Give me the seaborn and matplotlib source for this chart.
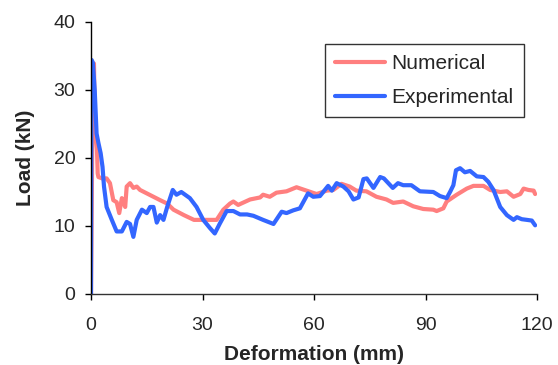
import matplotlib
matplotlib.use("Agg")
import matplotlib.pyplot as plt
import seaborn as sns
import pandas as pd

num_x = [0.0, 0.5, 0.8, 1.0, 1.3, 1.6, 1.8, 2.0, 3.0, 4.2,
         5.1, 6.0, 6.9, 7.6, 8.3, 9.2, 9.6, 10.5, 11.4, 12.3,
         13.2, 15.0, 16.8, 18.6, 20.5, 22.2, 25.0, 27.7, 30.2, 33.8,
         35.6, 37.4, 38.3, 39.6, 42.8, 45.5, 46.3, 48.1, 49.9, 52.6,
         55.3, 58.0, 60.7, 63.4, 65.2, 67.4, 69.6, 71.4, 74.1, 76.8,
         79.5, 81.3, 84.0, 86.7, 89.4, 92.1, 93.0, 94.8, 95.7, 98.4,
         101.1, 102.9, 105.6, 107.4, 110.1, 111.9, 113.7, 115.5, 116.4, 117.7,
         119.1, 119.5]
num_y = [0.0, 33.0, 33.9, 26.0, 23.3, 21.3, 17.7, 17.2, 17.0, 17.0,
         16.3, 13.8, 13.5, 11.9, 14.1, 12.8, 15.8, 16.3, 15.6, 15.8,
         15.3, 14.8, 14.3, 13.8, 13.3, 12.4, 11.6, 10.9, 10.9, 10.9,
         12.4, 13.3, 13.6, 13.1, 13.9, 14.2, 14.6, 14.3, 14.9, 15.1,
         15.7, 15.2, 14.7, 15.2, 15.3, 16.2, 15.8, 15.2, 15.1, 14.3,
         13.9, 13.4, 13.6, 12.9, 12.5, 12.4, 12.2, 12.6, 13.6, 14.6,
         15.5, 15.9, 15.9, 15.3, 15.0, 15.1, 14.3, 14.7, 15.5, 15.3,
         15.2, 14.7]

exp_x = [0.0, 0.1, 0.2, 0.5, 1.0, 1.5, 2.0, 2.6, 3.1, 3.5,
         4.2, 5.6, 6.9, 8.3, 9.6, 10.5, 11.4, 12.3, 13.7, 15.0,
         15.9, 16.8, 17.7, 18.6, 19.5, 20.5, 22.0, 23.0, 24.3, 26.6,
         28.4, 30.2, 32.0, 33.3, 34.7, 36.5, 38.3, 40.1, 42.0, 43.7,
         46.3, 49.1, 51.3, 52.6, 54.4, 56.2, 58.4, 59.8, 61.6, 63.8,
         64.8, 66.1, 67.9, 69.3, 70.6, 72.0, 73.3, 74.2, 76.0, 77.8,
         78.8, 81.2, 82.6, 84.0, 86.2, 88.5, 92.1, 93.9, 95.7, 96.6,
         97.5, 98.2, 99.3, 100.6, 102.0, 103.8, 105.6, 106.9, 108.3, 110.1,
         111.9, 113.7, 114.6, 115.9, 117.3, 118.6, 119.5]
exp_y = [0.0, 30.0, 34.4, 34.0, 30.0, 23.6, 22.2, 20.7, 18.7, 15.8,
         12.8, 10.9, 9.2, 9.2, 10.6, 10.3, 8.4, 10.9, 12.4, 11.9,
         12.8, 12.8, 10.5, 11.6, 10.9, 12.8, 15.3, 14.6, 15.0, 14.1,
         12.8, 10.9, 9.7, 8.9, 10.4, 12.2, 12.2, 11.7, 11.7, 11.5,
         10.9, 10.3, 12.1, 11.9, 12.3, 12.6, 14.8, 14.3, 14.4, 15.9,
         15.2, 16.3, 15.8, 15.1, 13.9, 14.2, 16.9, 17.0, 15.6, 17.2,
         17.0, 15.6, 16.3, 16.0, 16.0, 15.1, 15.0, 14.4, 14.1, 15.0,
         16.0, 18.2, 18.5, 17.9, 18.1, 17.3, 17.2, 16.5, 15.3, 12.8,
         11.6, 10.9, 11.3, 11.0, 10.9, 10.8, 10.1]

x_ticks = [0, 30, 60, 90, 120]
y_ticks = [0, 10, 20, 30, 40]

df = pd.concat([
    pd.DataFrame({"x": num_x, "y": num_y, "series": "Numerical"}),
    pd.DataFrame({"x": exp_x, "y": exp_y, "series": "Experimental"}),
], ignore_index=True)

sns.set_style("ticks")
plt.rcParams['font.family'] = ['Liberation Sans', 'DejaVu Sans']

fig = plt.figure(figsize=(5.58, 3.65), dpi=100)
ax = fig.add_axes([91/558, 1-294/365, (537-91)/558, (294-22)/365])

sns.lineplot(data=df, x="x", y="y", hue="series", sort=False, estimator=None,
             palette={"Numerical": "#FF7F7F", "Experimental": "#3366FF"},
             linewidth=3, ax=ax)

ax.set_xlim(0, 120)
ax.set_ylim(0, 40)
ax.set_xticks(x_ticks)
ax.set_yticks(y_ticks)
ax.tick_params(labelsize=14, length=4.3, width=1, color="black", direction="out")
ax.tick_params(axis="x", pad=12)
ax.tick_params(axis="y", pad=7)
ax.spines['top'].set_visible(False)
ax.spines['right'].set_visible(False)
ax.spines['left'].set_color('black')
ax.spines['bottom'].set_color('#333333')
for s in ['left', 'bottom']:
    ax.spines[s].set_linewidth(1)
ax.set_xlabel("Deformation (mm)", fontsize=15, fontweight="bold", labelpad=8)
ax.set_ylabel("Load (kN)", fontsize=15, fontweight="bold", labelpad=13)

leg = ax.legend(loc="upper right", bbox_to_anchor=(524/558, 1-44/365), bbox_transform=fig.transFigure,
                fontsize=15, frameon=True, fancybox=False, edgecolor="black",
                handlelength=2.4, handletextpad=0.3, borderpad=0.5, labelspacing=0.7,
                borderaxespad=0)
leg.get_frame().set_linewidth(1)
leg.set_title(None)

fig.savefig("out.png", dpi=100)
